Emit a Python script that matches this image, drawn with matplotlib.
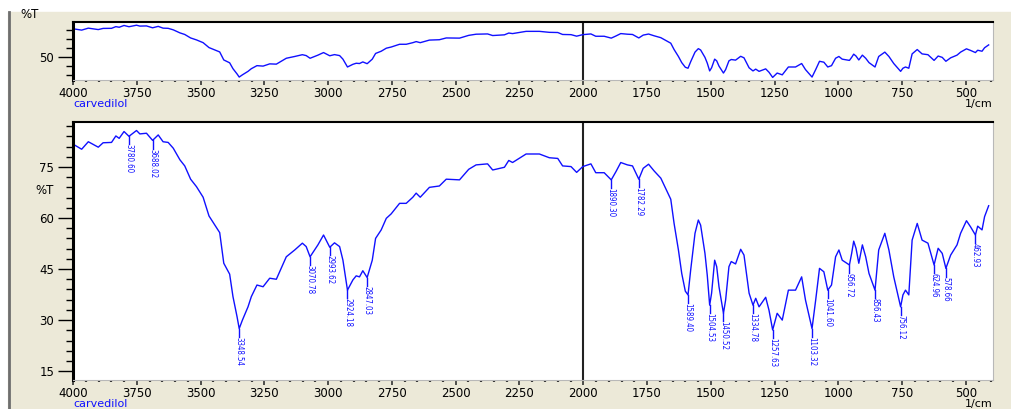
import matplotlib.pyplot as plt
import numpy as np
from matplotlib.lines import Line2D
from matplotlib.patches import Rectangle
from matplotlib.ticker import MultipleLocator

# spectrum (wavenumber in 1/cm, transmittance in %T)
wavenumbers = [
    4000, 3966, 3940, 3901, 3882, 3849, 3832, 3819, 3800, 3780.60,
    3751, 3738, 3712, 3688.02, 3666, 3647, 3627, 3607, 3581, 3562,
    3539, 3516, 3490, 3467, 3444, 3425, 3409, 3386, 3373, 3357,
    3348.54, 3336, 3314, 3301, 3279, 3255, 3229, 3203, 3164, 3131,
    3101, 3086, 3070.78, 3040, 3018, 2993.62, 2975, 2955, 2942, 2924.18,
    2903, 2890, 2877, 2864, 2847.03, 2827, 2814, 2792, 2772, 2753,
    2720, 2694, 2668, 2655, 2639, 2603, 2564, 2537, 2485, 2449,
    2420, 2375, 2355, 2309, 2292, 2277, 2224, 2172, 2133, 2100,
    2081, 2048, 2026, 2002, 1970, 1951, 1918, 1890.30, 1872, 1853,
    1827, 1807, 1782.29, 1765, 1744, 1722, 1696, 1674, 1657, 1644,
    1627, 1614, 1600, 1589.40, 1579, 1562, 1549, 1540, 1523, 1514,
    1504.53, 1497, 1485, 1477, 1468, 1450.52, 1442, 1429, 1420, 1403,
    1383, 1370, 1350, 1334.78, 1324, 1311, 1285, 1272, 1257.63, 1240,
    1220, 1196, 1168, 1144, 1129, 1103.32, 1089, 1074, 1057, 1041.60,
    1027, 1011, 998, 985, 956.72, 948, 940, 931, 920, 906,
    893, 880, 856.43, 842, 818, 802, 783, 756.12, 747, 737,
    724, 711, 691, 672, 649, 624.96, 609, 593, 578.66, 560,
    535, 521, 498, 482, 462.93, 454, 437, 427, 411,
]
transmittance = [
    81.7, 80.2, 82.4, 80.8, 82.1, 82.2, 84.1, 83.4, 85.4, 84.0,
    85.7, 84.7, 84.9, 82.8, 84.4, 82.4, 82.2, 80.5, 77.1, 75.3,
    71.4, 69.2, 66.1, 60.6, 57.9, 55.7, 46.7, 43.5, 36.9, 31.0,
    27.5, 30.0, 33.9, 36.9, 40.3, 39.8, 42.3, 42.0, 48.6, 50.6,
    52.6, 51.6, 48.6, 52.1, 55.0, 51.4, 52.7, 51.6, 47.6, 38.8,
    41.8, 43.0, 42.7, 44.5, 42.5, 47.6, 54.0, 56.5, 59.9, 61.2,
    64.3, 64.3, 66.1, 67.3, 66.1, 69.0, 69.4, 71.4, 71.2, 74.3,
    75.6, 75.9, 74.1, 74.9, 76.9, 76.3, 78.8, 78.8, 77.7, 77.5,
    75.3, 75.1, 73.4, 75.1, 75.9, 73.3, 73.3, 71.2, 73.6, 76.3,
    75.6, 75.3, 71.4, 74.6, 75.8, 73.8, 71.7, 68.2, 65.5, 58.4,
    50.6, 43.7, 38.5, 37.4, 44.7, 55.5, 59.4, 57.9, 49.6, 43.2,
    34.4, 37.9, 47.6, 45.7, 39.8, 32.0, 35.9, 45.7, 47.2, 46.5,
    50.8, 49.1, 37.9, 34.4, 36.4, 33.9, 36.7, 32.9, 27.1, 32.0,
    30.0, 38.8, 38.8, 42.7, 35.9, 27.5, 35.9, 45.2, 44.2, 38.8,
    40.3, 48.6, 50.6, 47.6, 46.2, 49.6, 53.2, 51.1, 46.7, 52.1,
    48.6, 43.7, 38.8, 50.6, 55.5, 50.6, 42.7, 33.9, 37.4, 38.8,
    37.4, 53.5, 58.4, 53.5, 52.6, 46.2, 51.1, 49.6, 45.2, 49.1,
    52.1, 55.5, 59.2, 57.4, 55.0, 57.6, 56.5, 60.4, 63.6,
]

# labelled peaks in the lower panel
peak_labels = [
    3780.60, 3688.02, 3348.54, 3070.78, 2993.62, 2924.18, 2847.03,
    1890.30, 1782.29, 1589.40, 1504.53, 1450.52, 1334.78, 1257.63,
    1103.32, 1041.60, 956.72, 856.43, 756.12, 624.96, 578.66, 462.93,
]

sample_name = "carvedilol"
x_ticks = [4000, 3750, 3500, 3250, 3000, 2750, 2500, 2250, 2000,
           1750, 1500, 1250, 1000, 750, 500]

W, H = 1011, 409
BEIGE = "#ECE9D8"
BLUE = "#1010FF"


def fig_rect(left, top, right, bottom):
    # pixel box -> figure fraction [l, b, w, h]
    return [left / W, 1 - bottom / H, (right - left) / W, (bottom - top) / H]


def fig_xy(x, y):
    return x / W, 1 - y / H


def style_axes(ax, ylim, y_major, y_minor):
    ax.set_xlim(4000, 394)
    ax.set_ylim(*ylim)
    ax.set_facecolor("white")

    ax.spines["left"].set_linewidth(2.2)
    ax.spines["left"].set_color("black")
    ax.spines["top"].set_linewidth(1.5)
    ax.spines["top"].set_color("black")
    ax.spines["right"].set_color("#B8B8B8")
    ax.spines["bottom"].set_color("#B8B8B8")

    ax.set_xticks(x_ticks)
    ax.set_xticklabels([str(t) for t in x_ticks])
    ax.xaxis.set_minor_locator(MultipleLocator(50))
    ax.yaxis.set_major_locator(MultipleLocator(y_major))
    ax.yaxis.set_minor_locator(MultipleLocator(y_minor))

    ax.tick_params(axis="x", which="major", direction="out", length=3.5,
                   width=1.2, pad=1.5, labelsize=8.5, color="#333333")
    ax.tick_params(axis="x", which="minor", direction="out", length=1.6,
                   width=1.6, color="#333333")
    ax.tick_params(axis="y", which="major", direction="out", length=10.5,
                   width=1.0, pad=3, labelsize=8.5)
    ax.tick_params(axis="y", which="minor", direction="out", length=5,
                   width=1.0)

    # marker line at 2000 1/cm
    ax.axvline(2000, color="#222222", linewidth=1.5)
    ax.plot(wavenumbers, transmittance, color=BLUE, linewidth=1.0)


fig = plt.figure(figsize=(W / 100, H / 100), dpi=100)
fig.patch.set_facecolor("white")

# window background and its left border
fig.patches.append(Rectangle(fig_xy(8, H), (W - 8) / W, (H - 12) / H,
                             transform=fig.transFigure, color=BEIGE, zorder=-10))
fig.lines.append(Line2D([9 / W, 9 / W], [0, 1 - 12 / H], transform=fig.transFigure,
                        color="#6E6E6E", linewidth=2.0, zorder=-5))

# overview panel
ax_top = fig.add_axes(fig_rect(73, 22, 993, 80))
style_axes(ax_top, (24.2, 89.3), 50, 10)
ax_top.set_yticks([50])

# main panel
ax_main = fig.add_axes(fig_rect(73, 122, 993, 380))
style_axes(ax_main, (12.4, 88.2), 15, 3)
ax_main.set_yticks([15, 30, 45, 60, 75])

# peak markers and labels
for wn in peak_labels:
    t = np.interp(wn, wavenumbers[::-1], transmittance[::-1])
    ax_main.plot([wn, wn], [t, t - 2.4], color=BLUE, linewidth=1.0)
    ax_main.text(wn, t - 2.4, f"{wn:.2f}", rotation=270, ha="center", va="top",
                 fontsize=5.7, color=BLUE, fontstretch="condensed",
                 family=["Liberation Sans Narrow", "DejaVu Sans"])

# texts around the panels
for y_name in (104, 404):
    fig.text(*fig_xy(73, y_name), sample_name, color=BLUE, fontsize=8,
             ha="left", va="center")
    fig.text(*fig_xy(993, y_name), "1/cm", color="black", fontsize=8,
             ha="right", va="center")

fig.text(*fig_xy(20, 15), "%T", fontsize=8.5, ha="left", va="center")
fig.text(*fig_xy(35, 191), "%T", fontsize=8.5, ha="left", va="center")

fig.savefig("out.png", dpi=100, facecolor=fig.get_facecolor())
